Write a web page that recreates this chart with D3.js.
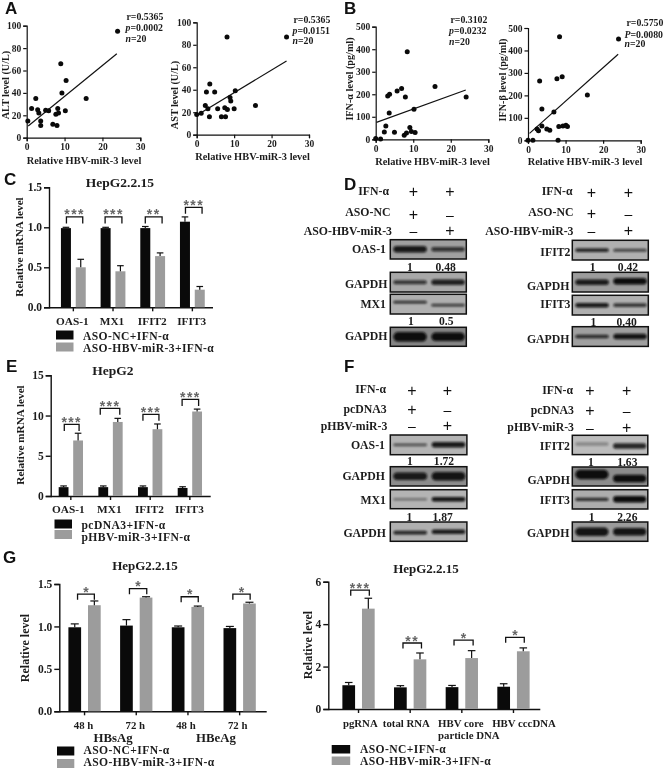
<!DOCTYPE html>
<html><head><meta charset="utf-8">
<script src="https://cdn.jsdelivr.net/npm/d3@7"></script>
<style>
html,body{margin:0;padding:0;background:#fff;overflow:hidden}
svg{display:block;filter:blur(0.35px)}
text{font-family:"Liberation Serif",serif;font-weight:bold;fill:#1c1c1c}
.letter{font-family:"Liberation Sans",Arial,sans-serif;font-size:17px;fill:#111}
</style></head><body>
<svg id="c" width="666" height="769"></svg>
<script>
// ---------- scatter data (panels A, B) ----------
const altX=[0.3,1.3,2.4,2.9,3.2,3.7,3.7,5,5.8,6.9,8,7.7,8.2,8.4,9,9.3,10.2,10.4,15.7,24];
const altY=[15,26,35,25,22,15,11,24.5,24,12,11,21,26,22,66,40,24,51,35,95];
const altFit=[[0.4,10.5],[23.8,75]];
const astX=[0,1.2,2.3,2.6,3,3.5,3.4,4.8,5.6,6.6,7.7,7.5,8.1,8.2,8.9,9.1,10,10.3,15.7,24];
const astY=[18,19,26,38,23,45,16,38,23,16,16,24,87,22.5,33,30,23,39,26,87];
const astFit=[[0.6,18.4],[24,65.6]];
const ifnaX=[0,1.3,2.3,2.7,3.2,3.7,3.6,5,5.7,6.9,7.9,7.6,8.2,8.4,9.1,9.5,10.2,10.5,15.8,24.1];
const ifnaY=[3,1,32,59,192,200,117,31,214,226,188,18,28,389,52,35,133,30,235,188];
const ifnaFit=[[0.2,75],[24,219]];
const ifnbX=[0,1.3,2.4,2.8,3.1,3.7,3.7,5,5.8,6.9,7.7,8,8.2,8.4,9.1,9.3,10.1,10.5,15.8,24.1];
const ifnbY=[0,0,50,43,264,139,64,50,45,126,274,0,61,461,283,64,67,61,202,451];
const ifnbFit=[[0.4,31],[24,383]];
const scatterXTicks=[0,10,20,30];
const altTicks=[0,20,40,60,80,100];
const ifnTicks=[0,100,200,300,400,500];
// ---------- bar data (panels C, E, G) ----------
const mrnaGenes=["OAS-1","MX1","IFIT2","IFIT3"];
const cBlack=[0.99,0.99,0.99,1.07], cBlackErr=[0.01,0.01,0.02,0.06];
const cGray=[0.5,0.45,0.64,0.22], cGrayErr=[0.1,0.07,0.04,0.04];
const cStars=["***","***","**","***"], cBracket=[1.13,1.13,1.13,1.25];
const cTicks=[0,0.5,1,1.5];
const eBlack=[1.1,1.1,1.1,1.0], eBlackErr=[0.15,0.15,0.15,0.15];
const eGray=[6.9,9.2,8.3,10.5], eGrayErr=[0.9,0.45,0.65,0.3];
const eStars=["***","***","***","***"], eBracket=[8.9,10.9,10.15,12];
const eTicks=[0,5,10,15];
const g1Cats=["48 h","72 h","48 h","72 h"];
const g1Groups=["HBsAg","HBeAg"];
const g1Black=[0.99,1.01,0.99,0.98], g1BlackErr=[0.04,0.07,0.015,0.02];
const g1Gray=[1.25,1.34,1.23,1.27], g1GrayErr=[0.05,0.01,0.01,0.015];
const g1Stars=["*","*","*","*"], g1Bracket=[1.38,1.445,1.35,1.38];
const g2Cats=["pgRNA","total RNA","HBV core|particle DNA","HBV cccDNA"];
const g2Black=[1.12,1.02,1.03,1.05], g2BlackErr=[0.13,0.08,0.08,0.14];
const g2Gray=[4.73,2.34,2.4,2.72], g2GrayErr=[0.49,0.3,0.35,0.16];
const g2Stars=["***","**","*","*"], g2Bracket=[5.6,3.11,3.25,3.38];
const g2Ticks=[0,2,4,6];
// ---------- blot quantification ----------
const dLeftTop=["1","0.48"], dLeftBottom=["1","0.5"], dRightTop=["1","0.42"], dRightBottom=["1","0.40"];
const fLeftTop=["1","1.72"], fLeftBottom=["1","1.87"], fRightTop=["1","1.63"], fRightBottom=["1","2.26"];

const svg=d3.select("#c");
const defs=svg.append("defs");
defs.append("filter").attr("id","bl").attr("x","-20%").attr("y","-80%").attr("width","140%").attr("height","260%")
  .append("feGaussianBlur").attr("stdDeviation","1.3");
const BLACK="#0a0a0a", GRAY="#9c9c9c";

function styleAxis(g,fs,sw){
  g.selectAll("path,line").attr("stroke","#111").attr("stroke-width",sw);
  g.select(".domain").attr("fill","none");
  g.selectAll("text").attr("font-size",fs).attr("font-family",'"Liberation Serif",serif').attr("font-weight","bold").attr("fill","#1c1c1c");
}
function label(txt,x,y,size,anchor,rot){
  const t=svg.append("text").attr("font-size",size).attr("text-anchor",anchor||"middle").text(txt);
  if(rot) t.attr("transform",`translate(${x},${y}) rotate(-90)`); else t.attr("x",x).attr("y",y);
  return t;
}
function scatter(o){
  const x=d3.scaleLinear().domain([0,30]).range([o.x0,o.x1]);
  const y=d3.scaleLinear().domain(o.yDom).range([o.y0,o.y1]);
  const ax=svg.append("g").attr("transform",`translate(0,${o.y0})`).call(d3.axisBottom(x).tickValues(scatterXTicks).tickSize(3.5).tickPadding(2).tickSizeOuter(3.5));
  styleAxis(ax,9.5,1.2);
  const ay=svg.append("g").attr("transform",`translate(${o.x0},0)`).call(d3.axisLeft(y).tickValues(o.ticks).tickSize(3.5).tickPadding(2).tickSizeOuter(3.5));
  styleAxis(ay,9.5,1.2);
  svg.append("line").attr("x1",x(o.fit[0][0])).attr("y1",y(o.fit[0][1])).attr("x2",x(o.fit[1][0])).attr("y2",y(o.fit[1][1])).attr("stroke","#111").attr("stroke-width",1.2);
  svg.append("g").selectAll("circle").data(o.xs).join("circle").attr("cx",d=>x(d)).attr("cy",(d,i)=>y(o.ys[i])).attr("r",2.5).attr("fill","#0a0a0a");
  label(o.xTitle,o.xtPos[0],o.xtPos[1],10.4);
  label(o.yTitle,o.ytPos[0],o.ytPos[1],10.2,"middle",true);
  const s=o.stat;
  label(s.r,s.x,s.y[0],9.8,"start");
  const p=label("",s.px,s.y[1],9.8,"start");
  p.append("tspan").attr("font-style","italic").text(s.pL); p.append("tspan").text(s.p);
  const n=label("",s.px,s.y[2],9.8,"start");
  n.append("tspan").attr("font-style","italic").text("n"); n.append("tspan").text("=20");
}
function bars(o){
  const y=d3.scaleLinear().domain([0,o.yMax]).range([o.y0,o.y1]);
  const idx=d3.range(o.black.length);
  const band=d3.scaleBand().domain(idx).range(o.band);
  const cx=i=>band(i)+band.bandwidth()/2;
  const ax=svg.append("g").attr("transform",`translate(0,${o.y0})`).call(d3.axisBottom(band).tickFormat("").tickSize(4).tickSizeOuter(0));
  ax.select(".domain").attr("d",`M${o.x0},0.5H${o.x1}`);
  styleAxis(ax,10,1.4);
  const ay=svg.append("g").attr("transform",`translate(${o.x0},0)`).call(d3.axisLeft(y).tickValues(o.ticks).tickFormat(o.fmt).tickSize(5).tickPadding(2).tickSizeOuter(5));
  styleAxis(ay,o.tickFs,1.4);
  const draw=(vals,errs,col,sign)=>{
    const g=svg.append("g");
    const bx=i=>cx(i)+sign*o.off;
    g.selectAll("rect").data(vals).join("rect").attr("x",(d,i)=>bx(i)-o.w/2).attr("width",o.w)
      .attr("y",d=>y(d)).attr("height",d=>o.y0-y(d)).attr("fill",col);
    g.selectAll(".v").data(vals).join("line").attr("class","v").attr("x1",(d,i)=>bx(i)).attr("x2",(d,i)=>bx(i))
      .attr("y1",d=>y(d)).attr("y2",(d,i)=>y(d+errs[i])).attr("stroke","#111").attr("stroke-width",1.2);
    g.selectAll(".c").data(vals).join("line").attr("class","c").attr("x1",(d,i)=>bx(i)-o.cap).attr("x2",(d,i)=>bx(i)+o.cap)
      .attr("y1",(d,i)=>y(d+errs[i])).attr("y2",(d,i)=>y(d+errs[i])).attr("stroke","#111").attr("stroke-width",1.2);
  };
  draw(o.black,o.blackErr,BLACK,-1);
  draw(o.gray,o.grayErr,GRAY,1);
  idx.forEach(i=>{
    const l=cx(i)-o.off+o.brPad[i][0], r=cx(i)+o.off+o.brPad[i][1], t=y(o.bracket[i]);
    svg.append("path").attr("d",`M${l},${t+o.leg}V${t}H${r}V${t+o.leg}`).attr("fill","none").attr("stroke","#111").attr("stroke-width",1.3);
    svg.append("text").attr("x",(l+r)/2).attr("y",t+2.5).attr("text-anchor","middle")
      .style("font-family",'"Liberation Sans",sans-serif').style("fill","#666").attr("font-size",14).attr("letter-spacing",o.stars[i].length>1?1.4:0).text(o.stars[i]);
    const parts=o.cats[i].split("|");
    parts.forEach((p,k)=>label(p,cx(i)+o.labelDx[i]+k*(o.line2Dx||0),o.labelY+k*o.lineH,o.catFs));
  });
  label(o.title[0],o.title[1],o.title[2],o.title[3]);
  label(o.yTitle[0],o.yTitle[1],o.yTitle[2],o.yTitle[3],"middle",true);
  const L=o.legend;
  L.names.forEach((n,k)=>{
    svg.append("rect").attr("x",L.x).attr("y",L.ys[k]).attr("width",L.w).attr("height",L.h).attr("fill",k?GRAY:BLACK);
    label(n,L.tx,L.tys[k],L.fs,"start").attr("letter-spacing",0.4);
  });
}
function blot(o){
  const id="clip"+Math.round(o.x*10)+"_"+Math.round(o.y*10);
  defs.append("clipPath").attr("id",id).append("rect").attr("x",o.x).attr("y",o.y).attr("width",o.w).attr("height",o.h);
  const g=svg.append("g");
  g.append("rect").attr("x",o.x).attr("y",o.y).attr("width",o.w).attr("height",o.h).attr("fill",o.bg);
  const gb=g.append("g").attr("clip-path",`url(#${id})`);
  o.bands.forEach((b,i)=>{
    const cx=o.x+o.w*(i?0.76:0.26);
    const cy=o.y+o.h*(o.cy||0.5)+(b[2]||0);
    gb.append("rect").attr("x",cx-o.w*0.22).attr("y",cy-b[1]/2).attr("width",o.w*0.44).attr("height",b[1]).attr("rx",b[1]/2)
      .attr("fill","#0a0a0a").attr("opacity",b[0]).attr("filter","url(#bl)");
  });
  g.append("rect").attr("x",o.x).attr("y",o.y).attr("width",o.w).attr("height",o.h).attr("fill","none").attr("stroke","#111").attr("stroke-width",1.5);
  label(o.name,o.lx,o.ly,11.8,"end");
}
function header(rows,xs){
  rows.forEach(r=>{
    label(r.t,r.x,r.y,r.fs||11.8,"end");
    r.m.forEach((m,i)=>{
      svg.append("text").attr("x",xs[i]).attr("y",r.my).attr("text-anchor","middle").attr("font-size",m==="+"?16:14)
        .style("font-family",'"Liberation Sans",sans-serif').style("font-weight","normal").style("fill","#111").text(m==="+"?"+":"–");
    });
  });
}
function quant(vals,xs,y){ vals.forEach((v,i)=>label(v,xs[i],y,11.6)); }

// Panel letters
[["A",5,14],["B",344,14],["C",4,185],["D",344,190],["E",6,372],["F",344,372],["G",3,563]].forEach(d=>{
  svg.append("text").attr("class","letter").attr("x",d[1]).attr("y",d[2]).text(d[0]);
});

// Scatter plots
const xT="Relative HBV-miR-3 level";
scatter({x0:26.7,x1:140.3,y0:137.7,y1:25.7,yDom:[0,100],ticks:altTicks,xs:altX,ys:altY,fit:altFit,
  xTitle:"Relative HBV-miR-3  level",xtPos:[84,163.5],yTitle:"ALT level  (U/L)",ytPos:[8.5,85],
  stat:{r:"r=0.5365",x:126.5,px:125.5,pL:"p",p:"=0.0002",y:[20,31,41.5]}});
scatter({x0:196.7,x1:309,y0:134.7,y1:22.3,yDom:[0,100],ticks:altTicks,xs:astX,ys:astY,fit:astFit,
  xTitle:xT,xtPos:[252.5,160],yTitle:"AST level  (U/L)",ytPos:[178,95],
  stat:{r:"r=0.5365",x:293.5,px:292.5,pL:"p",p:"=0.0151",y:[22.5,34,44]}});
scatter({x0:375.7,x1:488.3,y0:139.3,y1:26.7,yDom:[0,500],ticks:ifnTicks,xs:ifnaX,ys:ifnaY,fit:ifnaFit,
  xTitle:xT,xtPos:[432.5,164.5],yTitle:"IFN-α level  (pg/ml)",ytPos:[353,79],
  stat:{r:"r=0.3102",x:450.5,px:449,pL:"p",p:"=0.0232",y:[22.5,34,44.5]}});
scatter({x0:528,x1:640.7,y0:140.3,y1:28,yDom:[0,500],ticks:ifnTicks,xs:ifnbX,ys:ifnbY,fit:ifnbFit,
  xTitle:xT,xtPos:[585,165],yTitle:"IFN-β level  (pg/ml)",ytPos:[506,80],
  stat:{r:"r=0.5750",x:626.5,px:624.5,pL:"P",p:"=0.0080",y:[25.5,37.5,47]}});

// Bar charts
bars({x0:49,x1:213,y0:307.3,y1:187.3,yMax:1.5,ticks:cTicks,fmt:d3.format(".1f"),tickFs:11.5,
  band:[53.5,212.2],off:7.4,w:10,cap:3.3,leg:6.5,black:cBlack,blackErr:cBlackErr,gray:cGray,grayErr:cGrayErr,
  stars:cStars,bracket:cBracket,brPad:[[0.5,2],[-0.5,1.5],[0,2],[0.5,2.3]],
  cats:mrnaGenes,labelDx:[-1,-1,-0.4,-0.7],labelY:325,lineH:0,catFs:11.3,
  title:["HepG2.2.15",120,187,13.5],yTitle:["Relative mRNA  level",23,247,11.2],
  legend:{x:56,w:17.5,h:9,ys:[330.5,342.5],names:["ASO-NC+IFN-α","ASO-HBV-miR-3+IFN-α"],tx:83,tys:[339.5,352],fs:11.6}});
bars({x0:50.7,x1:210.7,y0:496,y1:375.3,yMax:15,ticks:eTicks,fmt:d3.format("d"),tickFs:11.5,
  band:[51,209.7],off:7.25,w:9.8,cap:3.3,leg:6.5,black:eBlack,blackErr:eBlackErr,gray:eGray,grayErr:eGrayErr,
  stars:eStars,bracket:eBracket,brPad:[[0.7,1],[-3,2],[0,1.5],[-0.5,1.5]],
  cats:mrnaGenes,labelDx:[-2.5,-1.2,-0.8,-0.5],labelY:513,lineH:0,catFs:11.3,
  title:["HepG2",113,375,13.5],yTitle:["Relative mRNA  level",24,435,11.2],
  legend:{x:54.5,w:17.5,h:9,ys:[519.5,530],names:["pcDNA3+IFN-α","pHBV-miR-3+IFN-α"],tx:81.5,tys:[528.5,541],fs:11.6}});
bars({x0:59.3,x1:266.7,y0:711.3,y1:584,yMax:1.5,ticks:cTicks,fmt:d3.format(".1f"),tickFs:11.5,
  band:[58.7,265.5],off:9.8,w:12.7,cap:4,leg:5.5,black:g1Black,blackErr:g1BlackErr,gray:g1Gray,grayErr:g1GrayErr,
  stars:g1Stars,bracket:g1Bracket,brPad:[[2.8,0],[3,0.7],[3,0.5],[3,0.7]],
  cats:g1Cats,labelDx:[-1,-1,-2,-2],labelY:729,lineH:0,catFs:10.8,
  title:["HepG2.2.15",145,570,13],yTitle:["Relative level",29,648,12],
  legend:{x:57,w:17.3,h:9,ys:[746.5,759],names:["ASO-NC+IFN-α","ASO-HBV-miR-3+IFN-α"],tx:83.5,tys:[753.8,766.3],fs:11.6}});
g1Groups.forEach((t,i)=>label(t,[113,216][i],741.5,12.8));
bars({x0:328.3,x1:540.3,y0:709,y1:581.7,yMax:6,ticks:g2Ticks,fmt:d3.format("d"),tickFs:11.5,
  band:[332.7,539.3],off:9.8,w:12.7,cap:3.8,leg:5.5,black:g2Black,blackErr:g2BlackErr,gray:g2Gray,grayErr:g2GrayErr,
  stars:g2Stars,bracket:g2Bracket,brPad:[[2,1],[2.6,1.5],[2,1.5],[2,1]],
  cats:g2Cats,labelDx:[1.8,-3.8,-1,10.5],line2Dx:8,labelY:726.5,lineH:12.3,catFs:10.8,
  title:["HepG2.2.15",426,573,13],yTitle:["Relative level",312,645,12],
  legend:{x:331.7,w:18.5,h:8.5,ys:[745,756.5],names:["ASO-NC+IFN-α","ASO-HBV-miR-3+IFN-α"],tx:360,tys:[752.5,765],fs:11.6}});

// Panel D blots
header([{t:"IFN-α",x:389,y:195,my:197,m:["+","+"]},{t:"ASO-NC",x:390.5,y:216,my:220,m:["+","-"]},{t:"ASO-HBV-miR-3",x:392,y:234.5,my:236,m:["-","+"]}],[413.5,450]);
header([{t:"IFN-α",x:572.5,y:195,my:198,m:["+","+"]},{t:"ASO-NC",x:573.5,y:216,my:219,m:["+","-"]},{t:"ASO-HBV-miR-3",x:573.5,y:234.5,my:236,m:["-","+"]}],[591.5,628.5]);
const BLW=76;
blot({x:390.3,y:239.7,w:BLW,h:19.3,bg:"#a0a0a0",bands:[[0.92,6.5],[0.75,4.5]],name:"OAS-1",lx:386,ly:253});
blot({x:390.3,y:272.3,w:BLW,h:19.7,bg:"#a8a8a8",bands:[[0.75,4],[0.88,5.5]],name:"GAPDH",lx:387.5,ly:288});
blot({x:390.3,y:294.3,w:BLW,h:19.7,bg:"#b0b0b0",cy:0.5,bands:[[0.8,2.8,-2],[0.72,2.8,1]],name:"MX1",lx:386,ly:308});
blot({x:390.3,y:327.3,w:BLW,h:19,bg:"#858585",bands:[[1,9.5],[1,8.5]],name:"GAPDH",lx:387.5,ly:340});
blot({x:572.3,y:240.3,w:BLW,h:19.7,bg:"#b0b0b0",bands:[[0.85,3.6],[0.68,3]],name:"IFIT2",lx:570.5,ly:256});
blot({x:572.3,y:272.3,w:BLW,h:19.7,bg:"#9c9c9c",bands:[[0.9,5.5],[1,6.5,-1]],name:"GAPDH",lx:569.5,ly:290});
blot({x:572.3,y:295.3,w:BLW,h:19.7,bg:"#b0b0b0",bands:[[0.92,4.5],[0.75,3.6]],name:"IFIT3",lx:570.5,ly:308});
blot({x:572.3,y:326.7,w:BLW,h:19.7,bg:"#a0a0a0",bands:[[0.8,3.6],[0.95,5.5]],name:"GAPDH",lx:569.5,ly:342.5});
quant(dLeftTop,[410,445.7],271);
quant(dLeftBottom,[411,446.3],325);
quant(dRightTop,[592.7,628],271);
quant(dRightBottom,[593.3,626.7],326);

// Panel F blots
header([{t:"IFN-α",x:386,y:393,my:396,m:["+","+"]},{t:"pcDNA3",x:386.7,y:413,my:415,m:["+","-"]},{t:"pHBV-miR-3",x:387.3,y:429.5,my:431,m:["-","+"]}],[412,447.3]);
header([{t:"IFN-α",x:573,y:393.5,my:396,m:["+","+"]},{t:"pcDNA3",x:574,y:414,my:416,m:["+","-"]},{t:"pHBV-miR-3",x:574,y:430.5,my:433,m:["-","+"]}],[590,626.7]);
const BLW2=76.6;
blot({x:390.3,y:435,w:BLW2,h:19.7,bg:"#b4b4b4",bands:[[0.6,2.8],[0.92,5.5]],name:"OAS-1",lx:385,ly:449});
blot({x:390.3,y:466.7,w:BLW2,h:19.3,bg:"#8c8c8c",bands:[[0.9,7.5],[0.95,8.5]],name:"GAPDH",lx:385,ly:479.5});
blot({x:390.3,y:489.7,w:BLW2,h:19,bg:"#b4b4b4",bands:[[0.4,2.4],[0.95,4.5]],name:"MX1",lx:386,ly:504});
blot({x:390.3,y:522,w:BLW2,h:19.3,bg:"#b0b0b0",bands:[[0.85,3.6,1],[0.9,4.5]],name:"GAPDH",lx:386,ly:536.5});
blot({x:572.3,y:435.3,w:75.5,h:19.3,bg:"#bcbcbc",bands:[[0.3,3.5,-1],[0.85,5.5,1]],name:"IFIT2",lx:570,ly:449.5});
blot({x:572.3,y:467,w:75.5,h:19,bg:"#8c8c8c",bands:[[1,9.5,-2],[1,7.5,2]],name:"GAPDH",lx:570,ly:484});
blot({x:572.3,y:489.7,w:75.5,h:19.3,bg:"#adadad",bands:[[0.8,3.4],[1,6.5]],name:"IFIT3",lx:570,ly:504});
blot({x:572.3,y:522,w:75.5,h:19.3,bg:"#9c9c9c",bands:[[0.95,8.5],[0.95,7.5]],name:"GAPDH",lx:569.5,ly:536.5});
quant(fLeftTop,[410,444],465);
quant(fLeftBottom,[409.3,442.7],520.5);
quant(fRightTop,[591,627.3],466);
quant(fRightBottom,[591.7,627.3],520.5);
</script>
</body></html>
